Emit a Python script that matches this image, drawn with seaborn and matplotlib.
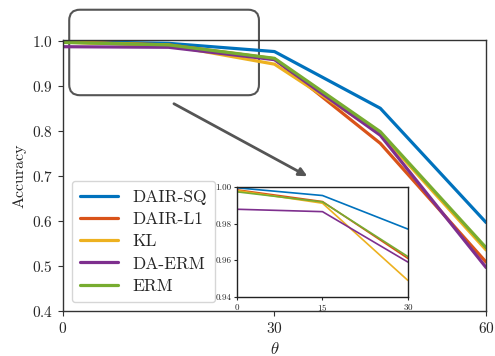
import pandas as pd
import matplotlib.pyplot as plt
import seaborn as sns
from matplotlib.patches import FancyBboxPatch

# values
theta = [0, 15, 30, 45, 60]
methods = ['DAIR-SQ', 'DAIR-L1', 'KL', 'DA-ERM', 'ERM']
acc_dair_sq = [0.9995, 0.9953, 0.977, 0.851, 0.597]
acc_dair_l1 = [0.9984, 0.9920, 0.961, 0.773, 0.509]
acc_kl = [0.9980, 0.9911, 0.949, 0.795, 0.536]
acc_da_erm = [0.9878, 0.9865, 0.959, 0.791, 0.497]
acc_erm = [0.9973, 0.9918, 0.962, 0.799, 0.541]
colors = ['#0072BD', '#D95319', '#EDB120', '#7E2F8E', '#77AC30']

series = [acc_dair_sq, acc_dair_l1, acc_kl, acc_da_erm, acc_erm]
df = pd.DataFrame({
    'theta': theta * len(methods),
    'Accuracy': [v for s in series for v in s],
    'method': [m for m in methods for _ in theta],
})

sns.set_style('ticks')
plt.rcParams['font.family'] = ['cmr10', 'DejaVu Serif']
plt.rcParams['mathtext.fontset'] = 'cm'
plt.rcParams['axes.unicode_minus'] = False
plt.rcParams['axes.formatter.use_mathtext'] = True

fig = plt.figure(figsize=(4.95, 3.56), dpi=100)
ax = fig.add_axes([0.127, 0.126, 0.855, 0.762])
palette = dict(zip(methods, colors))

sns.lineplot(data=df, x='theta', y='Accuracy', hue='method', hue_order=methods,
             palette=palette, linewidth=2.3, ax=ax)
ax.set_xlim(0, 60)
ax.set_ylim(0.4, 1.003)
ax.set_xticks([0, 30, 60])
ax.set_yticks([0.4, 0.5, 0.6, 0.7, 0.8, 0.9, 1.0])
ax.tick_params(labelsize=11, color='#333333')
ax.set_xlabel(r'$\theta$', fontsize=12)
ax.set_ylabel('Accuracy', fontsize=11.5)
for sp in ax.spines.values():
    sp.set_visible(True)
    sp.set_color('#333333')
    sp.set_linewidth(1.0)

leg = ax.legend(loc='lower left', fontsize=12.5, handlelength=2.2, borderpad=0.5,
                labelspacing=0.4, fancybox=True, edgecolor='#cccccc')

# zoom box and arrow
box = FancyBboxPatch((0.9, 0.88), 26.9, 0.19, boxstyle='round,pad=0,rounding_size=1.5',
                     transform=ax.transData, fill=False, edgecolor='#555555',
                     linewidth=1.5, clip_on=False, mutation_aspect=0.0158)
ax.add_patch(box)
ax.annotate('', xy=(35.0, 0.697), xytext=(15.4, 0.864),
            arrowprops=dict(arrowstyle='-|>', color='#555555', lw=2, mutation_scale=12))

# inset
axin = fig.add_axes([0.479, 0.166, 0.345, 0.309])
sns.lineplot(data=df[df['theta'] <= 30], x='theta', y='Accuracy', hue='method',
             hue_order=methods, palette=palette, linewidth=1.2, ax=axin, legend=False)
axin.set_xlim(0, 30)
axin.set_ylim(0.94, 1.0)
axin.set_xticks([0, 15, 30])
axin.set_yticks([0.94, 0.96, 0.98, 1.00])
axin.set_yticklabels(['0.94', '0.96', '0.98', '1.00'])
axin.tick_params(labelsize=6.5, length=2.5, pad=1.5)
axin.set_xlabel('')
axin.set_ylabel('')
for sp in axin.spines.values():
    sp.set_visible(True)
    sp.set_color('#222222')
    sp.set_linewidth(1.0)

fig.savefig('out.png', dpi=100)
